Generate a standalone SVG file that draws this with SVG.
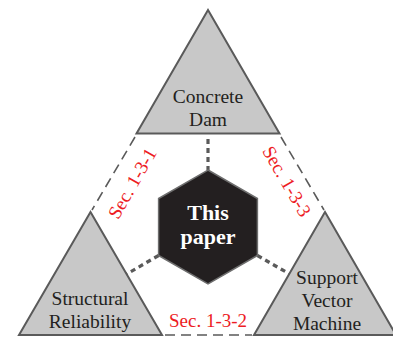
<svg xmlns="http://www.w3.org/2000/svg" width="393" height="340" viewBox="0 0 393 340">
  <style>
    .tri { fill: #c8c8c8; stroke: #5a5a5a; stroke-width: 2; stroke-linejoin: miter; }
    .hex { fill: #231f20; stroke: #6e6e6e; stroke-width: 1.5; }
    .lbl { font-family: "Liberation Serif", "Times New Roman", serif; font-size: 19.5px; fill: #231f20; text-anchor: middle; }
    .core { font-family: "Liberation Serif", "Times New Roman", serif; font-size: 22px; font-weight: bold; fill: #ffffff; text-anchor: middle; }
    .sec { font-family: "Liberation Serif", "Times New Roman", serif; font-size: 19px; fill: #ed1c24; text-anchor: middle; }
    .link { stroke: #5a5a5a; stroke-width: 1.6; stroke-dasharray: 10 6; fill: none; }
    .tie { stroke: #5a5a5a; stroke-width: 3.2; stroke-dasharray: 5 4; fill: none; }
  </style>
  <rect width="393" height="340" fill="#ffffff"/>

  <!-- connectors -->
  <g id="connectors">
    <line class="link" x1="135" y1="137" x2="92" y2="210"/>
    <line class="link" x1="281" y1="137" x2="324" y2="210"/>
    <line class="link" x1="165" y1="335" x2="252" y2="335"/>
    <line class="tie" x1="208" y1="139" x2="208" y2="170"/>
    <line class="tie" x1="158.6" y1="255.5" x2="126.6" y2="274"/>
    <line class="tie" x1="257.4" y1="255.5" x2="289.3" y2="273.9"/>
  </g>

  <!-- section labels -->
  <g id="labels">
    <text class="sec" transform="translate(137.7 186.5) rotate(-60)">Sec. 1-3-1</text>
    <text class="sec" transform="translate(281.3 184.5) rotate(60)">Sec. 1-3-3</text>
    <text class="sec" x="208" y="327">Sec. 1-3-2</text>
  </g>

  <g id="concrete-dam">
    <polygon class="tri" points="208,10 136.5,133.5 279.5,133.5"/>
    <text class="lbl" x="208" y="103">Concrete</text>
    <text class="lbl" x="208" y="126">Dam</text>
  </g>

  <g id="structural-reliability">
    <polygon class="tri" points="90.5,212 19,335 162,335"/>
    <text class="lbl" x="90" y="305">Structural</text>
    <text class="lbl" x="90" y="328">Reliability</text>
  </g>

  <g id="support-vector-machine">
    <polygon class="tri" points="325,212 254,335 396,335"/>
    <text class="lbl" x="327" y="284">Support</text>
    <text class="lbl" x="327" y="307">Vector</text>
    <text class="lbl" x="327" y="330">Machine</text>
  </g>

  <g id="this-paper">
    <polygon class="hex" points="208,170 257.4,198.5 257.4,255.5 208,284 158.6,255.5 158.6,198.5"/>
    <text class="core" x="208" y="220">This</text>
    <text class="core" x="208" y="244">paper</text>
  </g>
</svg>
